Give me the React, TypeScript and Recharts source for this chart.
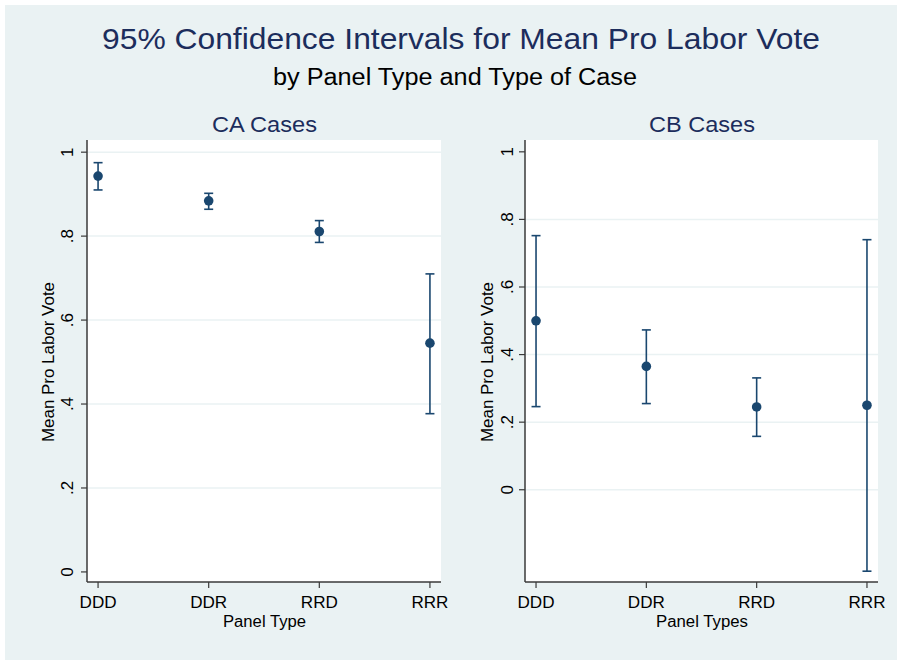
import * as React from "react";
import {
  CartesianGrid,
  ComposedChart,
  ErrorBar,
  ReferenceLine,
  Scatter,
  XAxis,
  YAxis,
} from "recharts";

// panel types on the x axis
const panelTypes = ["DDD", "DDR", "RRD", "RRR"];

// CA cases: mean and 95% CI bounds
const caMean = [0.943, 0.884, 0.811, 0.545];
const caLower = [0.91, 0.864, 0.785, 0.377];
const caUpper = [0.975, 0.902, 0.837, 0.71];

// CB cases: mean and 95% CI bounds
const cbMean = [0.5, 0.365, 0.245, 0.25];
const cbLower = [0.246, 0.255, 0.158, -0.241];
const cbUpper = [0.752, 0.473, 0.331, 0.74];

const yTicks = [0, 0.2, 0.4, 0.6, 0.8, 1];
const caGrid = [0.2, 0.4, 0.6, 0.8, 1];
const cbGrid = [0, 0.2, 0.4, 0.6, 0.8];

const FONT = "'Liberation Sans', Arial, sans-serif";
const NAVY = "#1a476f";
const TITLE = "#1c2d5c";
const BG = "#eaf2f3";
const AXIS = "#3a3a3a";

function buildRows(mean: number[], lower: number[], upper: number[]) {
  return mean.map((m, i) => ({
    x: i + 1,
    y: m,
    err: [m - lower[i], upper[i] - m],
  }));
}

const fmtTick = (v: number) => {
  if (v === 0) return "0";
  if (v === 1) return "1";
  return String(v).replace(/^0/, "");
};

function RotatedTick(props: any) {
  const { x, y, payload } = props;
  return (
    <text
      x={x}
      y={y}
      transform={`rotate(-90, ${x}, ${y})`}
      textAnchor="middle"
      fontSize={17}
      fontFamily={FONT}
      fill="#000"
    >
      {fmtTick(payload.value)}
    </text>
  );
}

function CatTick(props: any) {
  const { x, y, payload } = props;
  return (
    <text
      x={x}
      y={y + 11}
      textAnchor="middle"
      fontSize={16}
      textLength={37}
      lengthAdjust="spacingAndGlyphs"
      fontFamily={FONT}
      fill="#000"
    >
      {panelTypes[payload.value - 1]}
    </text>
  );
}

const Dot = (props: any) => (
  <circle cx={props.cx} cy={props.cy} r={4.8} fill={NAVY} />
);

interface PanelProps {
  rows: Array<{ x: number; y: number; err: number[] }>;
  domain: [number, number];
  grid: number[];
  yAxisWidth: number;
  marginRight: number;
  labelGap: number;
}

function Panel({ rows, domain, grid, yAxisWidth, marginRight, labelGap }: PanelProps) {
  return (
    <ComposedChart
      width={450}
      height={500}
      data={rows}
      margin={{ top: 10, right: marginRight, left: 0, bottom: 18 }}
    >
      <CartesianGrid fill="#ffffff" stroke="none" horizontal={false} vertical={false} />
      {grid.map((g) => (
        <ReferenceLine key={g} y={g} stroke={BG} strokeWidth={1.5} />
      ))}
      <XAxis
        type="number"
        dataKey="x"
        domain={[0.9, 4.1]}
        ticks={[1, 2, 3, 4]}
        allowDataOverflow
        height={30}
        tickSize={6}
        tickMargin={9}
        axisLine={{ stroke: AXIS, strokeWidth: 1.5 }}
        tickLine={{ stroke: AXIS, strokeWidth: 1.2 }}
        tick={<CatTick />}
      />
      <YAxis
        type="number"
        dataKey="y"
        domain={domain}
        ticks={yTicks}
        allowDataOverflow
        width={yAxisWidth}
        tickSize={6}
        tickMargin={labelGap}
        axisLine={{ stroke: AXIS, strokeWidth: 1.5 }}
        tickLine={{ stroke: AXIS, strokeWidth: 1.2 }}
        tick={<RotatedTick />}
      />
      <Scatter dataKey="y" fill={NAVY} shape={<Dot />} isAnimationActive={false}>
        <ErrorBar
          dataKey="err"
          direction="y"
          width={4.5}
          stroke={NAVY}
          strokeWidth={1.6}
          isAnimationActive={false}
        />
      </Scatter>
    </ComposedChart>
  );
}

function Label(props: {
  x: number;
  y: number;
  size: number;
  len: number;
  color?: string;
  rotate?: boolean;
  children: string;
}) {
  const { x, y, size, len, color = "#000", rotate, children } = props;
  return (
    <text
      x={x}
      y={y}
      transform={rotate ? `rotate(-90, ${x}, ${y})` : undefined}
      textAnchor="middle"
      fontSize={size}
      textLength={len}
      lengthAdjust="spacingAndGlyphs"
      fill={color}
      fontFamily={FONT}
    >
      {children}
    </text>
  );
}

export default function App() {
  const caRows = buildRows(caMean, caLower, caUpper);
  const cbRows = buildRows(cbMean, cbLower, cbUpper);

  return (
    <div
      style={{
        position: "absolute",
        left: 0,
        top: 0,
        width: 903,
        height: 661,
        background: "#ffffff",
        fontFamily: FONT,
      }}
    >
      <svg width={903} height={661} style={{ position: "absolute", left: 0, top: 0 }}>
        <rect x={5} y={5} width={892} height={655} fill={BG} />
        <Label x={461} y={49} size={30} len={718} color={TITLE}>
          95% Confidence Intervals for Mean Pro Labor Vote
        </Label>
        <Label x={455} y={85} size={23} len={364}>
          by Panel Type and Type of Case
        </Label>
        <Label x={264.5} y={132} size={22} len={105} color={TITLE}>
          CA Cases
        </Label>
        <Label x={702} y={132} size={22} len={106} color={TITLE}>
          CB Cases
        </Label>
        <Label x={54} y={362} size={16.5} len={160} rotate>
          Mean Pro Labor Vote
        </Label>
        <Label x={493} y={362} size={16.5} len={160} rotate>
          Mean Pro Labor Vote
        </Label>
        <Label x={264.5} y={627} size={16} len={83}>
          Panel Type
        </Label>
        <Label x={702} y={627} size={16} len={92}>
          Panel Types
        </Label>
      </svg>
      <div style={{ position: "absolute", left: 0, top: 130 }}>
        <Panel
          rows={caRows}
          domain={[-0.024, 1.029]}
          grid={caGrid}
          yAxisWidth={87}
          marginRight={9}
          labelGap={8}
        />
      </div>
      <div style={{ position: "absolute", left: 450, top: 130 }}>
        <Panel
          rows={cbRows}
          domain={[-0.273, 1.035]}
          grid={cbGrid}
          yAxisWidth={75}
          marginRight={22}
          labelGap={6}
        />
      </div>
    </div>
  );
}
